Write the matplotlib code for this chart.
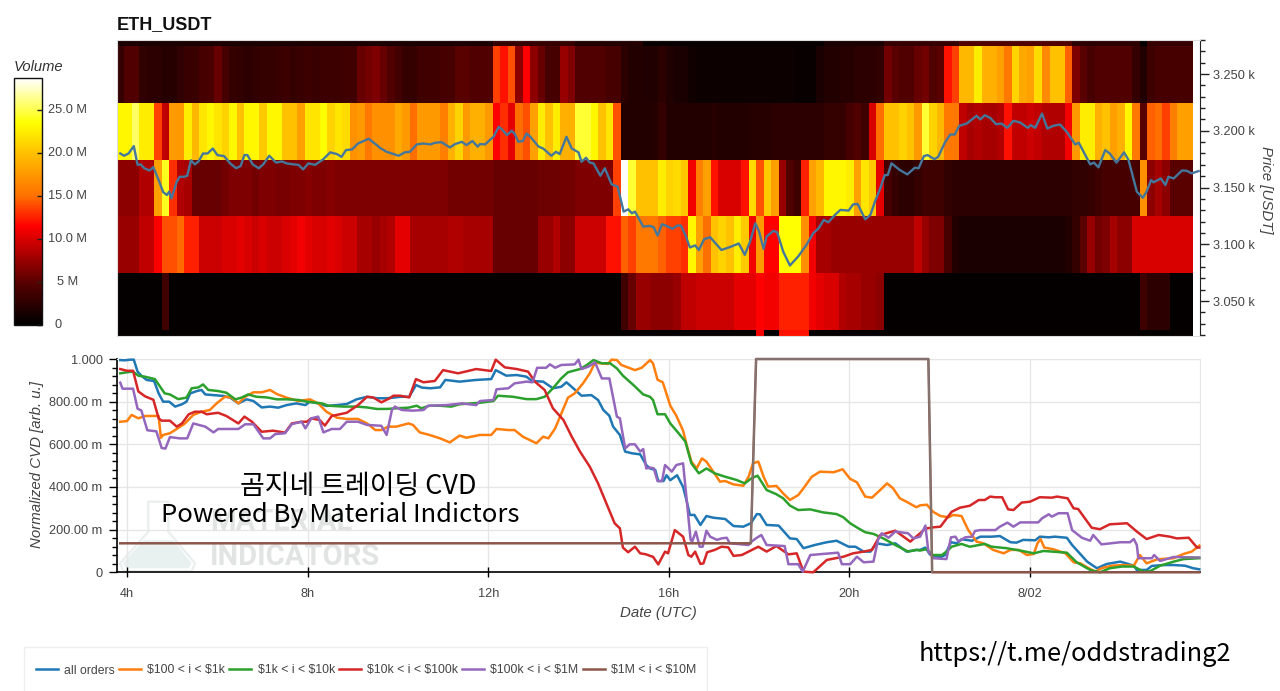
import matplotlib
matplotlib.use("Agg")
import matplotlib.pyplot as plt
import numpy as np
from matplotlib.colors import LinearSegmentedColormap
from matplotlib.patches import Polygon, Rectangle
from matplotlib.ticker import FixedLocator, FixedFormatter, MultipleLocator, NullFormatter

plt.rcParams['font.family'] = ['Liberation Sans', 'Noto Sans CJK KR', 'DejaVu Sans']

# ---- heatmap volumes (millions) per price band, one value per 10 minute column ----
heat_strip_top = [1.5]*50 + [3.0]*11 + [2.0]*9 + [0.5]*24 + [1.5]*8 + [3.0]*10 + [4.5]*15 + [2.5]*9 + [0.3] + [3.0]*6
band_3250 = [3.0,4.5,4.5,2.8,2.5,2.5,2.2,2.2,2.8,3.2,
             3.2,4.0,4.2,5.5,4.0,3.0,2.8,2.5,2.8,3.0,
             3.0,3.2,3.4,3.0,3.2,3.4,3.2,3.4,3.4,3.4,
             3.6,3.6,5.5,6.0,6.5,5.5,4.5,3.8,3.0,3.0,
             3.5,3.6,3.6,4.0,4.0,5.0,5.0,4.5,4.5,4.5,
             13.5,12,14,7,11.5,7,5.5,4,4,7.5,
             6.5,4.5,4.5,4.5,4.5,4,4,2.5,2,2,
             1.8,1.8,2.5,1.8,1.5,1.5,1,0.7,0.7,0.7,
             0.7,0.7,0.7,0.7,0.7,0.7,0.7,0.7,0.7,0.7,
             0.5,0.5,0.5,1.5,2,2,2.2,2.2,2.5,2.5,
             2.5,2.8,6,5,4.5,4.5,5.5,6,4.5,5,
             12,13.5,19.5,19.5,22.5,19,19,18,15.5,21,
             18.5,18,21.5,16.5,20,20,14.5,6.5,5,4,
             4.5,4.5,4.5,4.5,4.5,3,1.8,3.5,4,4,
             4,4,4]
band_3200 = [23,23,25.5,22.5,22.5,13.5,9,17.5,17.5,22.5,
             19.5,22,23,22,21,23,20,23,23,20.5,
             23,23,20,20,18,22,22,23.5,21,22,
             21.5,17,17.5,15.5,17,17,17,18.5,17.5,15,
             17.5,17.5,17.5,16,19,21,17.5,19,19,17.5,
             11.5,13,10.5,15,14,18,22.5,20,22.5,19,
             19,24.5,24.5,23,20,22,14,2,2,2,
             2,2.2,3,2,2,2,2,2,2,2.2,
             2,2,2,2,2.2,2.2,2.2,2.5,2.5,2.5,
             2.5,2.5,2.5,2.5,3,3,3,4,4.5,3.5,
             10,15,20,20,21,20,17.5,24.5,21,19.5,
             15.5,15.5,9,8,8.5,8,8,8.5,12,9,
             9,9.5,9,8.5,8.5,8.5,11,17.5,22.5,22.5,
             19,20,18,19,23,15.5,5,14.5,15,13.5,
             16,18,18]
band_3150 = [7,7,7,8.5,8.5,18,24,13,8.5,8,
             5.5,5.5,5.5,5.5,6,6.5,6.5,6.5,6,6.5,
             6.5,6.2,6.2,6.5,6.5,6.8,6.5,6.5,6.8,6.5,
             6.5,6.5,6.5,6.5,6.5,6.5,6.5,6.5,6.5,6.5,
             6.5,6.5,6.5,6.5,6,6,6,6,6,6,
             5.5,5.5,5.5,5.5,5.5,5.5,5.8,5.8,5.8,6,
             6,6.5,6.5,6.5,6.5,6.5,13.5,28.7,24.5,20,
             20,20,22.5,21,21.5,20.5,11,16,18,12,
             10,10,10,12,21.5,14,20.5,18,7.5,4.5,
             3.5,12.5,18,19.5,23,23,23,22.5,18,22,
             20.5,10.5,4,3,2.5,2.5,3,3.5,3.5,3.5,
             2.8,2.5,2.5,2.5,2.5,2.5,2.5,2.5,2.5,2.5,
             2.5,2.5,2.5,2.5,2.5,2.5,2.5,2.8,2.8,3,
             3.5,4,4,4,4,4,17,7,8,7,
             5,5,5]
band_3100 = [7.5,7.5,7.5,9,9,11.5,14,14,14.8,12.5,
             12.5,9.5,9.5,9.5,10,10,10.5,10,9.5,10,
             9.5,9.5,10,10.5,11,10.5,10,10,10.5,10,
             9.5,9.5,8,8,7.5,8,8.5,10.5,10.5,8,
             8,8,8,8,8.5,8.5,8,8,8,8,
             5.5,5.5,5.5,5.5,5.5,5.5,7.5,7.5,8.5,7,
             7,9.5,9.5,9.5,9.5,12,12,14.5,13.5,15.5,
             15.5,15.5,14.5,13.5,13.5,13,23,18,15,20,
             21,20,22.5,20.5,11,17.5,11.5,11.5,23.5,23.5,
             23.5,17,11,8,8,7.5,7.5,7.5,7.5,7.5,
             7.5,7.5,7.5,7.5,7.5,7.5,9,7.5,6.5,6.5,
             4,2,1.5,1.5,1.5,1.5,1.5,1.5,1.5,1.5,
             1.5,1.5,1.5,1.5,1.5,1.5,2,3,5,7.5,
             6,6.5,8,7,7,10,10,10,10,10,
             10,10,10]
band_3050 = ([0.3]*6 + [3.5] + [0.3]*60 + [3.5,5.5,7.5] +
             [7.5,7,7,7,7.5,9,9,9.5,9.5,9.5,
              9.5,9.5,10.5,10.5,10.5,11.5,11,11,12.5,12.5,
              12.5,12.5,11,10.5,10,10,8.5,8,8,7.5,
              7.5,7] + [0.3]*34 + [3.5,2.5,2.5,2.5,0.3,0.3,0.3])
heat_strip_bottom = [0.3]*85 + [11] + [0.3,0.3] + [12]*4 + [0.3]*51
band_edges = [3019.2, 3024.5, 3074.5, 3124.5, 3174.5, 3224.5, 3274.7, 3280]
heat_start = 226   # minutes since 00:00 of the first day
heat_step = 10

# ---- price line ----
price_t = [231,236,242,249,254,258,263,270,275,282,288,293,296,299,306,310,316,320,325,330,335,341,347,354,360,369,377,385,391,396,400,407,415,421,429,438,446,452,461,468,474,481,490,501,510,519,525,531,539,547,561,572,
           576,585,601,609,616,625,634,643,649,658,669,676,685,691,699,706,709,716,722,727,734,738,745,751,755,760,766,771,776,787,793,804,810,815,824,831,840,844,850,855,860,869,875,884,892,900,906,911,915,926,935,
           940,945,951,957,965,971,976,982,988,995,1000,1007,1015,1022,1030,1041,1053,1061,1068,1075,1080,1086,1090,1099,1104,1112,1121,1132,1143,1152,1159,1166,1172,1181,1188,1199,1205,1211,1221,1228,1234,1241,1247,1251,1256,1267,1277,1287,1292,
           1299,1304,1313,1318,1327,1334,1340,1346,1356,1369,1374,1380,1387,1395,1402,1410,1418,1427,1437,1441,1447,1456,1463,1471,1480,1489,1500,1505,1520,1525,1531,1540,1546,1555,1565,1571,1582,1590,1595,1601,1604,1614,1620,1624,1631,1642,1648,1655,1664]
price_v = [3180,3178,3180,3186.5,3170,3170.4,3167,3165,3168,3156.6,3146,3143.4,3146.4,3140.5,3155,3159.5,3159.5,3160.4,3174,3170.4,3173,3180,3180,3184.4,3178.6,3177.7,3171.3,3167,3169,3178.6,3178.6,3170.4,3167,3170.4,3178,3172,3173,3171.3,3170.4,3170,3166,3171.3,3170,3175,3181,3179.5,3177,3183,3183.6,3188.8,3193,3187.4,
           3185,3181.5,3178,3181,3181.5,3188,3188.8,3188,3189.4,3190,3185.3,3188.3,3190.3,3187.4,3191,3186,3188.3,3188,3191.8,3194.7,3203.5,3201.4,3196.2,3200,3197.6,3190.3,3191,3197.6,3194.7,3186,3184.4,3178,3181.5,3179.5,3194.7,3184.4,3181,3172.7,3176.2,3172,3171.3,3160.4,3167,3152.8,3150.8,3128.8,3130.8,3127.3,3128.8,3115.6,3116.2,
           3115,3107.7,3117.7,3116.2,3113.6,3116.5,3116.5,3108.3,3097.2,3099,3095,3104.5,3106.2,3101,3095,3097.5,3100.7,3090.7,3102.4,3118.5,3111.2,3096,3106.8,3111.8,3110.6,3093.6,3081.3,3089.3,3099.5,3109.8,3114,3121.5,3119.4,3126,3130.3,3129.7,3135.2,3135.5,3122,3126,3137.6,3149.3,3161,3161,3171.3,3165.4,3161.6,3167.5,3167,
           3177.7,3178.6,3175,3177,3189.7,3196.7,3196.7,3204.4,3206.4,3213.2,3210,3213.7,3211.4,3205.8,3206.4,3202.6,3208.8,3207.3,3202.6,3205,3202.6,3215.2,3202,3204.4,3205.5,3199,3188,3189.4,3170.4,3172,3167.8,3183,3180,3172,3181,3174.2,3146.4,3141,3146.4,3156.6,3154.6,3158,3152.2,3159.5,3158,3165,3164.8,3162.5,3164.5]

# ---- CVD series: times (minutes since 00:00 first day), values (milli arb. u.) ----
all_t = [231,237,244,249,254,259,266,276,282,288,296,304,313,319,324,333,339,344,355,368,377,388,399,408,419,430,441,452,465,477,483,494,505,519,532,545,559,572,585,
         594,603,615,624,632,643,656,663,682,704,724,730,744,758,771,778,793,806,817,824,833,844,857,866,873,881,886,895,902,911,922,930,
         935,942,946,953,957,962,971,979,984,988,994,1002,1010,1019,1035,1046,1059,1069,1077,1081,1090,1106,1121,1130,1139,1154,1170,1183,1199,1208,1219,1228,1236,1250,1261,1276,1289,
         1294,1301,1307,1321,1327,1335,1343,1349,1363,1374,1389,1400,1414,1422,1431,1447,1453,1465,1473,1489,1496,1504,1516,1529,1542,1560,1578,1582,1595,1602,1617,1631,1646,1657,1665]
all_v = [995,994,997,997,941,922,902,897,839,800,800,777,788,800,839,850,855,834,831,827,819,792,811,803,773,777,772,784,792,784,800,792,780,784,789,811,823,816,816,
         819,823,823,878,866,863,867,902,894,902,906,948,922,925,917,897,894,863,870,891,863,828,831,808,761,734,683,644,566,558,553,503,
         487,480,428,428,455,432,455,400,331,269,269,222,264,256,250,217,214,230,273,272,222,219,159,156,113,128,141,148,120,120,97,97,136,128,136,97,105,
         105,116,84,70,81,141,136,155,148,167,167,170,141,139,152,150,167,164,167,162,128,97,50,19,39,50,31,11,11,30,34,34,31,19,14]
o100_t = [231,240,246,255,264,282,285,288,297,306,317,328,339,350,359,370,379,388,397,408,419,430,439,452,468,483,494,505,519,532,547,559,570,578,
          587,598,614,620,629,642,656,669,682,691,709,724,731,747,755,766,784,793,800,809,820,826,835,846,855,862,868,879,884,891,897,915,924,935,
          939,945,952,962,970,979,984,990,997,1004,1010,1019,1028,1035,1046,1059,1066,1072,1079,1086,1092,1103,1112,1121,1132,1139,1150,1161,1179,1191,1201,1210,1221,1230,1241,1250,1258,1267,1278,1289,
          1294,1303,1311,1321,1332,1338,1349,1358,1369,1378,1391,1405,1414,1425,1436,1445,1450,1454,1459,1471,1487,1498,1507,1516,1527,1535,1549,1564,1578,1586,1595,1609,1631,1644,1655,1665]
o100_v = [706,709,738,722,733,733,631,644,652,672,698,738,753,761,792,823,819,792,823,844,844,855,836,819,803,811,792,753,725,719,719,698,667,667,
          683,683,698,691,656,644,628,609,641,631,644,644,672,667,667,636,605,636,628,675,769,819,839,886,933,984,980,977,997,995,972,948,959,995,
          980,903,891,781,734,664,594,519,487,534,519,472,425,428,412,406,448,511,519,448,402,405,370,339,362,394,448,472,469,483,438,422,355,350,386,417,394,347,327,305,
          314,317,284,264,258,269,264,198,144,136,105,89,105,105,81,86,136,156,116,108,89,47,42,23,3,19,31,34,31,81,42,61,66,86,97,125]
k1_t = [231,240,248,255,264,277,284,290,297,308,319,326,335,341,348,361,372,384,392,401,412,426,439,452,468,479,499,508,528,545,559,572,
        585,598,614,625,631,642,656,671,682,709,727,733,753,771,784,795,806,817,826,842,851,860,871,882,891,899,913,926,
        935,939,945,955,962,973,982,990,1000,1010,1021,1035,1050,1061,1070,1078,1083,1090,1103,1112,1121,1132,1148,1165,1183,1192,1201,1212,1221,1232,1245,1261,1278,1289,
        1294,1303,1310,1323,1329,1336,1349,1360,1380,1389,1409,1427,1445,1458,1489,1502,1520,1533,1546,1562,1578,1591,1600,1613,1631,1644,1665]
k1_v = [933,938,941,922,917,906,870,839,834,812,819,863,867,881,855,850,842,811,819,834,823,820,811,811,808,800,792,781,777,777,773,766,
        766,769,772,781,769,781,781,777,788,795,803,828,823,812,812,823,863,909,938,953,972,995,980,980,956,922,878,834,
        823,808,741,741,698,652,613,511,464,487,464,448,433,417,441,453,425,386,366,347,313,292,295,281,273,258,230,206,188,180,159,128,97,105,
        102,109,81,81,97,120,133,120,133,120,113,102,89,100,92,47,11,0,19,27,27,3,6,31,50,62,66]
k10_t = [231,240,248,255,264,275,282,286,297,306,313,322,330,339,346,361,372,388,396,406,419,434,450,459,472,479,485,496,503,512,532,547,559,567,578,589,
         594,603,615,624,634,649,660,680,704,724,730,742,758,773,782,795,806,820,831,842,855,866,877,888,895,899,906,915,922,930,
         935,939,946,955,959,968,979,986,990,995,1002,1006,1011,1021,1030,1039,1046,1057,1066,1079,1090,1103,1119,1130,1139,1152,1170,1192,1205,1219,1230,1241,1261,1281,1294,
         1301,1312,1321,1336,1347,1360,1372,1380,1387,1394,1403,1411,1418,1429,1440,1453,1469,1476,1490,1498,1504,1522,1533,1546,1569,1582,1595,1611,1626,1635,1651,1662,1665]
k10_v = [953,945,945,848,825,809,722,711,711,683,698,741,753,753,741,748,733,698,730,706,659,664,655,698,706,706,722,714,688,733,748,784,823,820,797,816,
         828,828,820,906,891,897,948,933,953,944,997,961,953,941,894,855,769,714,636,566,495,417,323,230,206,116,94,120,89,84,
         77,73,37,97,89,198,167,81,73,97,39,42,94,105,120,117,77,81,97,120,97,123,84,89,3,0,58,73,89,97,105,175,195,144,183,
         205,211,214,284,303,312,339,339,355,352,352,295,292,327,331,352,350,355,347,300,297,209,202,225,230,191,156,175,167,159,162,116,116]
k100_t = [231,234,248,254,259,267,279,286,291,297,310,320,328,344,355,361,388,397,408,421,430,437,450,459,472,477,485,494,501,512,523,532,547,559,578,585,
          592,596,605,620,634,640,665,685,704,709,727,731,747,755,771,779,785,797,802,809,817,835,840,844,853,862,871,881,891,895,902,908,915,922,926,930,
          935,940,945,951,955,964,970,979,984,989,991,996,1001,1005,1010,1015,1024,1030,1037,1041,1066,1070,1077,1083,1090,1114,1119,1132,1138,1148,1185,1190,1201,1210,1219,1232,1238,1243,1252,1261,1278,1285,
          1294,1301,1305,1312,1329,1335,1341,1345,1354,1363,1367,1374,1394,1400,1410,1418,1427,1451,1456,1465,1469,1478,1490,1496,1509,1520,1524,1535,1560,1573,1578,1582,1584,1602,1605,1613,1631,1665]
k100_v = [889,861,861,767,759,666,661,583,580,634,628,628,698,683,656,672,672,694,694,628,628,648,652,695,706,675,722,730,656,672,672,706,706,691,687,644,
          761,777,761,758,761,781,784,792,784,803,808,858,863,886,894,891,959,959,975,959,972,975,997,953,964,984,909,909,730,722,581,600,600,566,578,487,
          491,488,428,428,503,472,503,511,331,152,144,191,120,120,195,167,152,159,162,136,128,144,162,175,128,123,38,38,3,81,92,38,38,73,47,50,152,183,162,191,183,159,
          167,219,97,66,62,164,167,144,164,167,194,198,198,214,233,214,234,234,253,272,261,277,277,198,162,148,175,131,141,141,156,128,66,66,81,53,72,69]
m1_t = [231,1069,1076,1305,1310,1665]
m1_v = [136,136,1000,1000,0,0]
grey_t = [1069,1076,1305,1310,np.nan,1644,1665]
grey_v = [136,1000,1000,0,np.nan,69,70]

series_labels = ['all orders', '$100 < i < $1k', '$1k < i < $10k', '$10k < i < $100k', '$100k < i < $1M', '$1M < i < $10M']
series_colors = ['#1f77b4', '#ff7f0e', '#2ca02c', '#d62728', '#9467bd', '#8c564b']

time_ticks = [240, 480, 720, 960, 1200, 1440]
time_labels = ['4h', '8h', '12h', '16h', '20h', '8/02']
cvd_ticks = [0, 200, 400, 600, 800, 1000]
cvd_labels = ['0', '200.00 m', '400.00 m', '600.00 m', '800.00 m', '1.000']
price_ticks = [3050, 3100, 3150, 3200, 3250]
price_labels = ['3.050 k', '3.100 k', '3.150 k', '3.200 k', '3.250 k']
volume_ticks = [0, 5, 10, 15, 20, 25]
volume_labels = ['0', '5 M', '10.0 M', '15.0 M', '20.0 M', '25.0 M']

W, H = 1280, 691
fig = plt.figure(figsize=(W/100, H/100), dpi=100, facecolor='white')

def axpx(l, t, r, b):
    return fig.add_axes([l/W, 1-b/H, (r-l)/W, (b-t)/H])

TXT = '#444444'
XLIM = (226, 1665.3)
TICK_FS = 9.2
LABEL_FS = 10.8

# colour map
vol_max = 28.7
anchors = [(0, '#000000'), (5, '#5a0000'), (11.5, '#ff0000'), (15, '#ff7000'),
           (20, '#ffc000'), (23.5, '#ffff00'), (28.7, '#ffffff')]
cmap = LinearSegmentedColormap.from_list('volume', [(v/vol_max, c) for v, c in anchors], N=256)

# ---- top: heatmap + price ----
ax = axpx(116.5, 40, 1199.5, 336)
rows = np.array([heat_strip_bottom, band_3050, band_3100, band_3150, band_3200, band_3250, heat_strip_top])
col_edges = heat_start + heat_step*np.arange(rows.shape[1]+1)
mesh = ax.pcolormesh(col_edges, band_edges, rows, cmap=cmap, vmin=0, vmax=vol_max, shading='flat', antialiased=False, rasterized=True)
ax.plot(price_t, price_v, color='#44779b', lw=1.7, solid_joinstyle='round')
ax.set_xlim(*XLIM)
ax.set_ylim(3019.2, 3280)
ax.set_xticks([])
ax.yaxis.tick_right()
ax.yaxis.set_major_locator(FixedLocator(price_ticks))
ax.yaxis.set_major_formatter(FixedFormatter(price_labels))
ax.yaxis.set_minor_locator(MultipleLocator(10))
ax.tick_params(axis='y', which='major', length=6.5, width=1, color='#222222', labelsize=TICK_FS, labelcolor=TXT, pad=3.5)
ax.tick_params(axis='y', which='minor', length=3.5, width=1, color='#222222')
for s in ('left', 'top', 'bottom'):
    ax.spines[s].set_color('#dddddd')
ax.spines['right'].set_color('#222222')
ax.set_ylabel('Price [USDT]', rotation=270, style='italic', color=TXT, fontsize=LABEL_FS)
ax.yaxis.set_label_position('right')
ax.yaxis.set_label_coords((1273-116.5)/(1199.5-116.5), 1-(190-40)/296)
ax.set_title('ETH_USDT', loc='left', fontweight='bold', fontsize=13, pad=8, color='#111111')

# ---- colour bar ----
cax = axpx(13.5, 78, 42.4, 325)
cb = fig.colorbar(mesh, cax=cax)
cb.set_ticks(volume_ticks)
cb.ax.set_yticklabels([])
cb.ax.tick_params(axis='y', direction='in', length=3.5, width=1, color='#222222', right=True)
cb.outline.set_edgecolor('#111111')
cb.outline.set_linewidth(1)
for v, lab in zip(volume_ticks, volume_labels):
    x_c = 58 if lab == '0' else 67.5
    fig.text(x_c/W, 1-(325-v*8.6)/H, lab, ha='center', va='center', fontsize=TICK_FS, color=TXT)
fig.text(14/W, 1-67/H, 'Volume', ha='left', va='center', style='italic', fontsize=10.6, color='#333333')

# ---- bottom: CVD ----
bx = axpx(116.5, 358.5, 1199.5, 572.3)
bx.set_xlim(*XLIM)
bx.set_ylim(0, 1002.5)
bx.grid(True, color='#e6e6e6', lw=1)
bx.set_axisbelow(True)

# watermark
def figpts(pts):
    return [((110+x/3)/W, 1-(355+y/3)/H) for x, y in pts]
bx.add_patch(Polygon(figpts([(115,440),(175,440),(175,530),(255,625),(245,648),(40,648),(30,625),(115,530)]),
                     closed=True, transform=fig.transFigure, fill=False, ec='#e9eeee', lw=1.6, zorder=0.5, clip_on=False))
bx.add_patch(Polygon(figpts([(100,556),(190,556),(245,625),(235,640),(48,640),(38,625)]),
                     closed=True, transform=fig.transFigure, fc='#e8f0f0', ec='none', zorder=0.5, clip_on=False))
bx.text(210/W, 1-522/H, 'MATERIAL', transform=fig.transFigure, ha='left', va='center', fontsize=21,
        fontweight='bold', family=['Liberation Sans Narrow', 'Roboto'], color='#e2e4e4', zorder=0.5)
bx.text(210/W, 1-557/H, 'INDICATORS', transform=fig.transFigure, ha='left', va='center', fontsize=21,
        fontweight='bold', family=['Liberation Sans Narrow', 'Roboto'], color='#e2e4e4', zorder=0.5)

pairs = [(all_t, all_v), (o100_t, o100_v), (k1_t, k1_v), (k10_t, k10_v), (k100_t, k100_v), (m1_t, m1_v)]
for (t, v), c, lab in zip(pairs, series_colors, series_labels):
    bx.plot(t, v, color=c, lw=1.8, label=lab, solid_joinstyle='round', zorder=3, clip_on=False)
bx.plot(grey_t, grey_v, color='#7f7f7f', lw=1.3, alpha=0.75, zorder=3.1, clip_on=False)

bx.xaxis.set_major_locator(FixedLocator(time_ticks))
bx.xaxis.set_major_formatter(FixedFormatter(time_labels))
bx.yaxis.set_major_locator(FixedLocator(cvd_ticks))
bx.yaxis.set_major_formatter(FixedFormatter(cvd_labels))
bx.yaxis.set_minor_locator(MultipleLocator(40))
bx.yaxis.set_minor_formatter(NullFormatter())
bx.tick_params(axis='x', which='major', direction='inout', length=7, width=1, color='black', labelsize=TICK_FS, labelcolor=TXT, pad=8)
bx.tick_params(axis='y', which='major', length=6, width=1, color='black', labelsize=TICK_FS, labelcolor=TXT, pad=4)
bx.tick_params(axis='y', which='minor', length=3.5, width=1, color='black')
for s in ('top', 'right'):
    bx.spines[s].set_color('#e6e6e6')
for s in ('left', 'bottom'):
    bx.spines[s].set_color('black')
    bx.spines[s].set_linewidth(1.2)
bx.set_ylabel('Normalized CVD [arb. u.]', style='italic', fontsize=LABEL_FS, color=TXT)
bx.yaxis.set_label_coords((44-116.5)/1083, 1-(465-358.5)/213.8)
bx.set_xlabel('Date (UTC)', style='italic', fontsize=LABEL_FS, color=TXT)
bx.xaxis.set_label_coords((658-116.5)/1083, -(606-572.3)/213.8)

# legend
fig.add_artist(Rectangle((24/W, 1-697/H), (707-24)/W, 50/H, transform=fig.transFigure,
                         fc='white', ec='#eeeeee', lw=1, zorder=0.5))
handles, labels = bx.get_legend_handles_labels()
leg = fig.legend(handles, labels, loc='upper left', bbox_to_anchor=(36/W, 1-664.5/H), ncols=6,
                 fontsize=8.85, frameon=False, handlelength=1.8, handletextpad=0.5,
                 columnspacing=0.33, borderpad=0, borderaxespad=0, labelcolor=TXT)
for t in leg.get_texts():
    t.set_parse_math(False)

# overlay texts
OVER = ['Noto Sans CJK KR', 'DejaVu Sans']
fig.text(358/W, 1-486/H, '곰지네 트레이딩 CVD', ha='center', va='center', fontsize=19.4, family=OVER, color='black', zorder=10)
fig.text(340.5/W, 1-515/H, 'Powered By Material Indictors', ha='center', va='center', fontsize=18.4, family=OVER, color='black', zorder=10)
fig.text(1074.5/W, 1-654/H, 'https://t.me/oddstrading2', ha='center', va='center', fontsize=18.25, family=OVER, color='black', zorder=10)

fig.savefig('out.png', dpi=100)
